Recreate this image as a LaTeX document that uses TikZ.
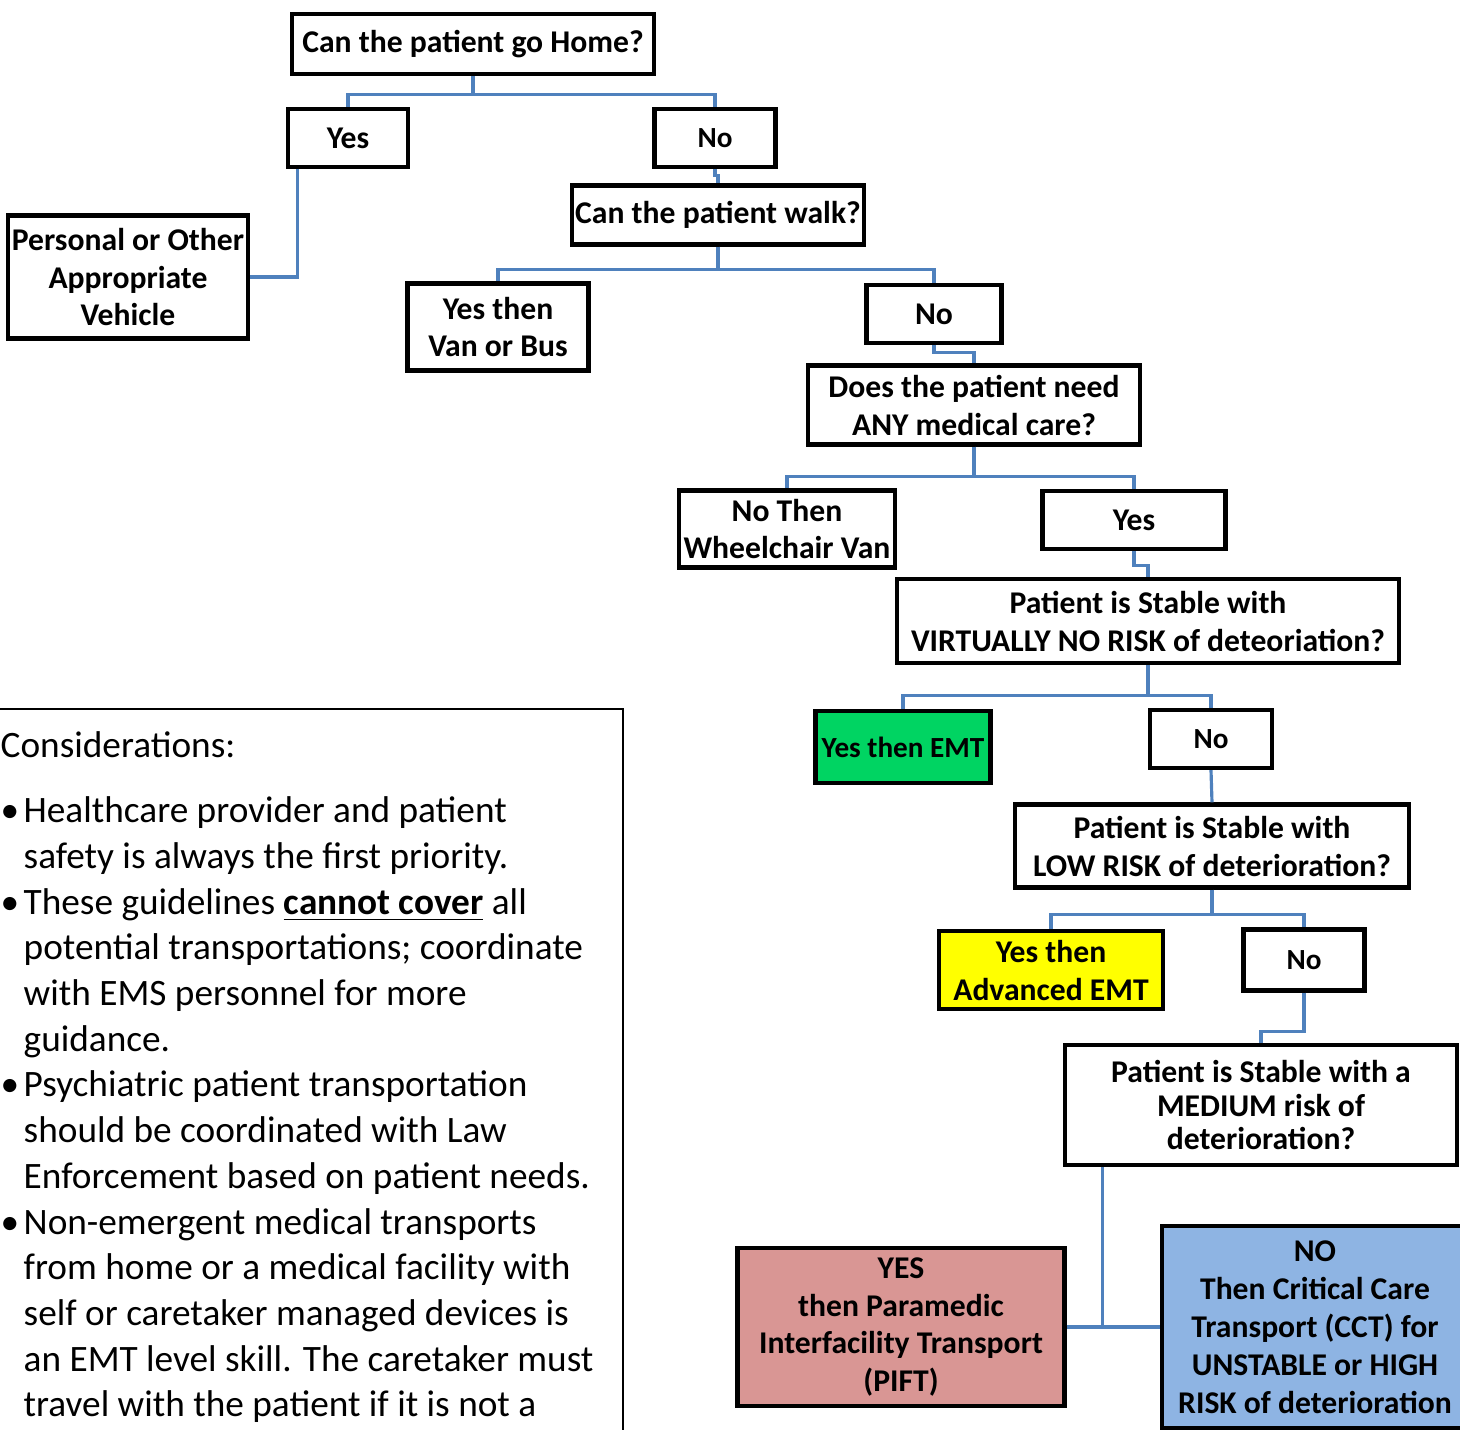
\documentclass[tikz,border=0pt]{standalone}
\usepackage{fontspec}
\setmainfont{Carlito}
\usetikzlibrary{calc}

\definecolor{linkblue}{RGB}{79,129,189}
\definecolor{emtgreen}{RGB}{0,212,98}
\definecolor{aemtyellow}{RGB}{255,255,0}
\definecolor{piftpink}{RGB}{217,150,148}
\definecolor{cctblue}{RGB}{142,180,227}

\newcommand{\consbullet}{\makebox[0.23cm][l]{\textbullet}}
\newcommand{\consindent}{\hspace*{0.23cm}}

\begin{document}
\begin{tikzpicture}[x=0.01cm, y=-0.01cm,
    box/.style={draw, line width=1.2pt, fill=white, align=center, inner sep=1pt,
                font=\bfseries\fontsize{9}{10.8}\selectfont},
    small/.style={font=\bfseries\fontsize{8.3}{10}\selectfont},
    link/.style={draw=linkblue, line width=0.9pt}]
    \clip (0,0) rectangle (1460,1429);

    % Home question
    \node[box, minimum width=3.62cm, minimum height=0.60cm] (home) at (473,44) {Can the patient go Home?};
    \node[box, minimum width=1.20cm, minimum height=0.58cm] (yesHome) at (348,138) {Yes};
    \node[box, small, minimum width=1.21cm, minimum height=0.58cm] (noHome) at (715,138) {No};
    \node[box, minimum width=2.36cm, minimum height=1.23cm] (vehicle) at (128,277) {Personal or Other\\Appropriate\\Vehicle};

    % Walk question
    \node[box, minimum width=2.92cm, minimum height=0.59cm] (walk) at (718,215) {Can the patient walk?};
    \node[box, minimum width=1.81cm, minimum height=0.87cm] (vanBus) at (498,327) {Yes then\\Van or Bus};
    \node[box, minimum width=1.35cm, minimum height=0.58cm] (noWalk) at (934,314) {No};

    % Medical care question
    \node[box, minimum width=3.32cm, minimum height=0.79cm] (medCare) at (974,405) {Does the patient need\\ANY medical care?};
    \node[box, minimum width=2.16cm, minimum height=0.77cm] (wheelVan) at (787,529) {No Then\\Wheelchair Van};
    \node[box, minimum width=1.83cm, minimum height=0.58cm] (yesCare) at (1134,520) {Yes};

    % Risk levels
    \node[box, minimum width=5.01cm, minimum height=0.84cm] (noRisk) at (1148,621) {Patient is Stable with\\VIRTUALLY NO RISK of deteoriation?};
    \node[box, small, fill=emtgreen, minimum width=1.75cm, minimum height=0.72cm] (emt) at (903,747) {Yes then EMT};
    \node[box, small, minimum width=1.22cm, minimum height=0.58cm] (noNoRisk) at (1211,739) {No};
    \node[box, minimum width=3.94cm, minimum height=0.83cm] (lowRisk) at (1212,846) {Patient is Stable with\\LOW RISK of deterioration?};
    \node[box, fill=aemtyellow, minimum width=2.24cm, minimum height=0.78cm] (aemt) at (1051,970) {Yes then\\Advanced EMT};
    \node[box, small, minimum width=1.21cm, minimum height=0.61cm] (noLowRisk) at (1304,960) {No};
    \node[box, font=\bfseries\fontsize{9}{9.6}\selectfont, minimum width=3.92cm, minimum height=1.20cm] (medRisk) at (1261,1105) {Patient is Stable with a\\MEDIUM risk of\\deterioration?};
    \node[box, fill=piftpink, minimum width=3.27cm, minimum height=1.58cm] (pift) at (901,1327) {YES\\then Paramedic\\Interfacility Transport\\(PIFT)};
    \node[box, fill=cctblue, minimum width=3.06cm, minimum height=2.02cm] (cct) at (1315,1327) {NO\\Then Critical Care\\Transport (CCT) for\\UNSTABLE or HIGH\\RISK of deterioration};

    % Connectors
    \draw[link] (home.south) -- ++(0,18) -| (yesHome.north);
    \draw[link] (home.south) -- ++(0,18) -| (noHome.north);
    \draw[link] ($(yesHome.south west)+(12,0)$) |- (vehicle.east);
    \draw[link] (noHome.south) -- ++(0,6) -| (walk.north);
    \draw[link] (walk.south) -- ++(0,23) -| (vanBus.north);
    \draw[link] (walk.south) -- ++(0,23) -| (noWalk.north);
    \draw[link] (noWalk.south) -- ++(0,7) -| (medCare.north);
    \draw[link] (medCare.south) -- ++(0,30) -| (wheelVan.north);
    \draw[link] (medCare.south) -- ++(0,30) -| (yesCare.north);
    \draw[link] (yesCare.south) -- ++(0,14) -| (noRisk.north);
    \draw[link] (noRisk.south) -- ++(0,30) -| (emt.north);
    \draw[link] (noRisk.south) -- ++(0,30) -| (noNoRisk.north);
    \draw[link] (noNoRisk.south) -- (lowRisk.north);
    \draw[link] (lowRisk.south) -- ++(0,25) -| (aemt.north);
    \draw[link] (lowRisk.south) -- ++(0,25) -| (noLowRisk.north);
    \draw[link] (noLowRisk.south) -- ++(0,39) -| (medRisk.north);
    \draw[link] ($(medRisk.south west)+(40,0)$) |- (pift.east);
    \draw[link] (pift.east) -- (cct.west);

    % Considerations
    \draw[line width=0.6pt] (-20,709) rectangle (623,1460);
    \node[anchor=north west, inner sep=0, align=left, font=\fontsize{10.6}{13}\selectfont] (cons) at (0,731) {%
        Considerations:\\[5.5pt]
        \consbullet Healthcare provider and patient\\
        \consindent safety is always the first priority.\\
        \consbullet These guidelines \underline{\textbf{cannot cover}} all\\
        \consindent potential transportations; coordinate\\
        \consindent with EMS personnel for more\\
        \consindent guidance.\\
        \consbullet Psychiatric patient transportation\\
        \consindent should be coordinated with Law\\
        \consindent Enforcement based on patient needs.\\
        \consbullet Non-emergent medical transports\\
        \consindent from home or a medical facility with\\
        \consindent self or caretaker managed devices is\\
        \consindent an EMT level skill. The caretaker must\\
        \consindent travel with the patient if it is not a};
\end{tikzpicture}
\end{document}
